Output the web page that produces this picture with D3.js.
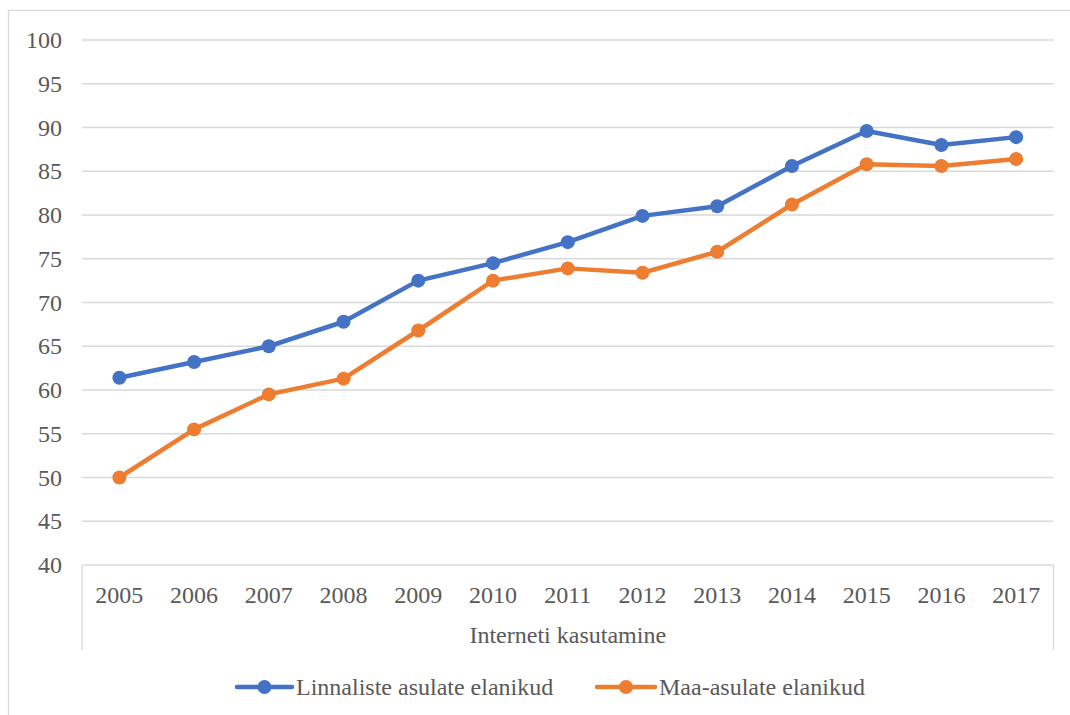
<!DOCTYPE html>
<html><head><meta charset="utf-8">
<script src="https://cdn.jsdelivr.net/npm/d3@7"></script>
<style>body{margin:0;background:#fff;} text{font-family:"Liberation Serif","Times New Roman",serif;fill:#595959;}</style>
</head><body><svg id="c" width="1070" height="715"></svg>
<script>
const years = ["2005","2006","2007","2008","2009","2010","2011","2012","2013","2014","2015","2016","2017"];
const urban = [61.4,63.2,65.0,67.8,72.5,74.5,76.9,79.9,81.0,85.6,89.6,88.0,88.9];
const rural = [50.0,55.5,59.5,61.3,66.8,72.5,73.9,73.4,75.8,81.2,85.8,85.6,86.4];
const yTicks = [40,45,50,55,60,65,70,75,80,85,90,95,100];
const seriesNames = ["Linnaliste asulate elanikud","Maa-asulate elanikud"];
const colors = ["#4472C4","#ED7D31"];
const axisTitle = "Interneti kasutamine";

const svg = d3.select("#c");
const L = 82, R = 1053.5, T = 40, B = 565;
const x = d3.scalePoint().domain(years).range([L, R]).padding(0.5);
const y = d3.scaleLinear().domain([40,100]).range([B, T]);

svg.append("rect").attr("x",8.5).attr("y",10.5).attr("width",1100).attr("height",800)
  .attr("fill","none").attr("stroke","#d9d9d9").attr("stroke-width",1.3);

// gridlines
svg.append("g").selectAll("line").data(yTicks).join("line")
  .attr("x1",L).attr("x2",R).attr("y1",d=>y(d)).attr("y2",d=>y(d))
  .attr("stroke","#d9d9d9").attr("stroke-width",1.3);
// y labels
svg.append("g").selectAll("text").data(yTicks).join("text")
  .attr("x",62).attr("y",d=>y(d)+8).attr("text-anchor","end")
  .style("font-size","24px").text(d=>d);
// category box sides
[L,R].forEach(xx=>svg.append("line").attr("x1",xx).attr("x2",xx).attr("y1",B).attr("y2",650)
  .attr("stroke","#d9d9d9").attr("stroke-width",1.3));
// x labels
svg.append("g").selectAll("text").data(years).join("text")
  .attr("x",d=>x(d)).attr("y",603).attr("text-anchor","middle")
  .style("font-size","24px").text(d=>d);
svg.append("text").attr("x",(L+R)/2).attr("y",643).attr("text-anchor","middle")
  .style("font-size","24px").text(axisTitle);

const line = d3.line().x((d,i)=>x(years[i])).y(d=>y(d));
[urban, rural].forEach((s,k)=>{
  svg.append("path").datum(s).attr("d",line).attr("fill","none")
    .attr("stroke",colors[k]).attr("stroke-width",4.5).attr("stroke-linejoin","round").attr("stroke-linecap","round");
  svg.append("g").selectAll("circle").data(s).join("circle")
    .attr("cx",(d,i)=>x(years[i])).attr("cy",d=>y(d)).attr("r",7).attr("fill",colors[k]);
});

// legend
const leg = [{x0:237,x1:292,tx:296},{x0:597,x1:655,tx:659}];
leg.forEach((l,k)=>{
  const ly = 687;
  svg.append("line").attr("x1",l.x0).attr("x2",l.x1).attr("y1",ly).attr("y2",ly)
    .attr("stroke",colors[k]).attr("stroke-width",4.5).attr("stroke-linecap","round");
  svg.append("circle").attr("cx",(l.x0+l.x1)/2).attr("cy",ly).attr("r",7).attr("fill",colors[k]);
  svg.append("text").attr("x",l.tx).attr("y",ly+8).style("font-size","24px").text(seriesNames[k]);
});
</script></body></html>
